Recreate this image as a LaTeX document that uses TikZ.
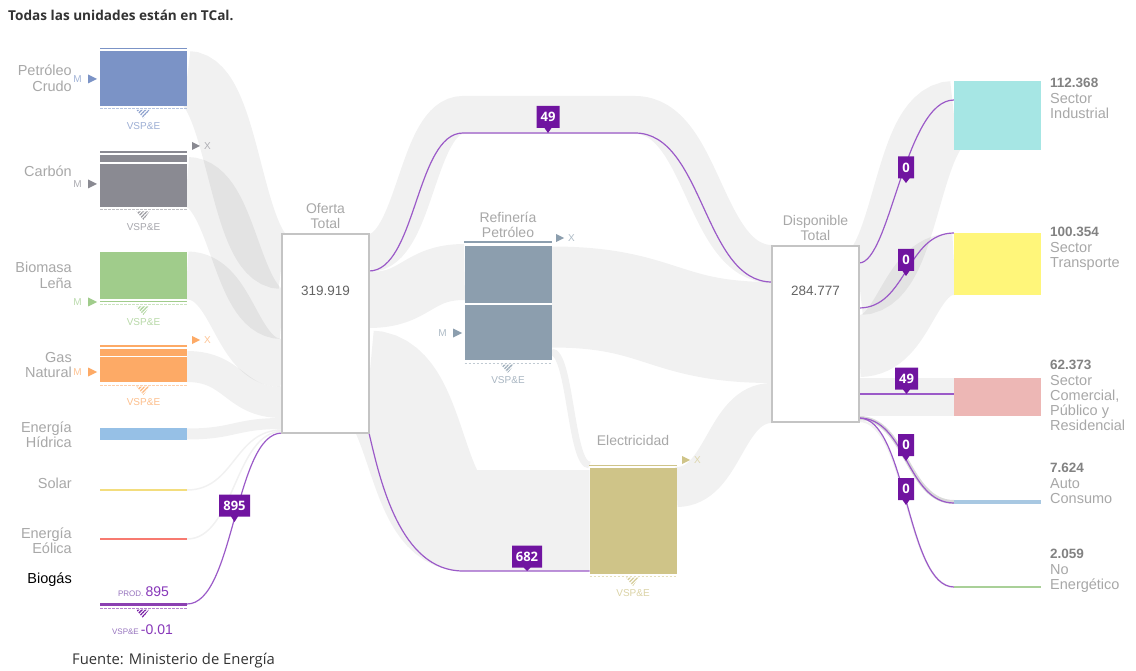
\documentclass[tikz,border=0pt]{standalone}
\usepackage{fontspec}
\setmainfont{Liberation Sans}
\newfontfamily\opensans{Open Sans}
\usetikzlibrary{calc,positioning,patterns.meta,shapes.callouts}

\definecolor{petrol}{RGB}{123,147,198}
\definecolor{carbon}{RGB}{138,138,146}
\definecolor{biomasa}{RGB}{160,204,139}
\definecolor{gas}{RGB}{253,170,102}
\definecolor{hidrica}{RGB}{150,192,230}
\definecolor{solar}{RGB}{243,221,125}
\definecolor{eolica}{RGB}{247,122,112}
\definecolor{biogas}{RGB}{120,30,165}
\definecolor{refin}{RGB}{140,158,174}
\definecolor{elec}{RGB}{207,196,136}
\definecolor{indus}{RGB}{166,230,228}
\definecolor{transp}{RGB}{255,246,122}
\definecolor{comer}{RGB}{237,183,181}
\definecolor{autoc}{RGB}{168,200,226}
\definecolor{noener}{RGB}{169,208,152}
\definecolor{boxgray}{RGB}{196,196,196}
\definecolor{labgray}{RGB}{168,168,168}
\definecolor{numgray}{RGB}{100,100,100}
\definecolor{sinkgray}{RGB}{130,130,130}
\definecolor{titlegray}{RGB}{51,51,51}
\definecolor{linepurple}{RGB}{155,90,200}
\definecolor{tagpurple}{RGB}{112,20,160}
\definecolor{prodcol}{RGB}{150,115,190}
\definecolor{biotext}{RGB}{135,55,185}

\newcommand{\sinknum}{\fontsize{13.5}{15.3}\selectfont\bfseries\color{sinkgray}}

\pgfdeclarelayer{bg}
\pgfsetlayers{bg,main}

\tikzset{
  flowband/.style={draw=black, draw opacity=0.055, line cap=butt},
  sankey/.style={to path={let \p1=(\tikztostart), \p2=(\tikztotarget), \n1={(\x2-\x1)/2} in
      .. controls ([xshift=\n1]\tikztostart) and ([xshift=-\n1]\tikztotarget) .. (\tikztotarget)}},
  bioline/.style={draw=linepurple, line width=1.2},
  barnode/.style={rectangle, inner sep=0, outer sep=0, minimum width=87, draw=none},
  ebox/.style={rectangle, draw=boxgray, line width=2, fill=white, inner sep=0, outer sep=0, minimum width=87},
  srclab/.style={anchor=east, align=right, text=labgray, inner sep=0, font=\fontsize{14.5}{15.5}\selectfont},
  boxlab/.style={align=center, text=labgray, inner sep=0, font=\fontsize{14}{15}\selectfont},
  numlab/.style={inner sep=0, text=numgray, font=\fontsize{13.5}{14}\selectfont},
  snklab/.style={anchor=north west, align=left, text=labgray, inner sep=0, font=\fontsize{14.5}{15.3}\selectfont},
  vsplab/.style={inner sep=0, font=\fontsize{10}{10}\selectfont},
  marklab/.style={inner sep=0, font=\fontsize{10}{10}\selectfont},
  hatch/.style={pattern={Lines[angle=45,distance=2.6pt,line width=1.3pt]}},
  flowtag/.style={rectangle callout, fill=tagpurple, text=white, inner sep=0, minimum width=23,
      minimum height=22, callout pointer width=7, font=\opensans\bfseries\fontsize{13}{13}\selectfont}
}

\begin{document}
\begin{tikzpicture}[x=1pt, y=-1pt]
    \useasboundingbox (0,0) rectangle (1136,671);

    \node[anchor=west, inner sep=0, text=titlegray, font=\opensans\bfseries\fontsize{13.6}{15}\selectfont] (title) at (8,15) {Todas las unidades están en TCal.};

    % Sources
    \node[barnode, fill=petrol, minimum height=55] (crudo) at (143.5,78.5) {};
    \node[barnode, fill=carbon, minimum height=52] (carbon) at (143.5,181) {};
    \node[barnode, fill=biomasa, minimum height=47] (biomasa) at (143.5,275.5) {};
    \node[barnode, fill=gas, minimum height=33] (gas) at (143.5,365.5) {};
    \node[barnode, fill=hidrica, minimum height=12] (hidrica) at (143.5,434) {};
    \node[barnode, fill=solar, minimum height=2.5] (solar) at (143.5,490) {};
    \node[barnode, fill=eolica, minimum height=2.5] (eolica) at (143.5,539) {};
    \node[barnode, fill=biogas!85, minimum height=3] (biogas) at (143.5,604) {};

    \draw[white, line width=1.2] (100,163) -- (187,163);
    \draw[white, line width=1.2] (100,356.5) -- (187,356.5);
    \foreach \y/\c in {48.5/petrol, 152/carbon, 301.5/biomasa, 346/gas}
        \draw[\c, line width=1.5] (100,\y) -- (187,\y);

    \node[srclab] (crudolab) at (72,78) {Petróleo\\Crudo};
    \node[srclab] (carbonlab) at (72,171) {Carbón};
    \node[srclab] (biomasalab) at (72,275.5) {Biomasa\\Leña};
    \node[srclab] (gaslab) at (72,365) {Gas\\Natural};
    \node[srclab] (hidricalab) at (72,434.5) {Energía\\Hídrica};
    \node[srclab] (solarlab) at (72,483) {Solar};
    \node[srclab] (eolicalab) at (72,540.5) {Energía\\Eólica};
    \node[srclab, text=black] (biogaslab) at (72,580) {Biogás};

    % Transformation
    \node[ebox, minimum height=199] (oferta) at (325.5,333.5) {};
    \node[numlab] (ofertaval) at (325.5,291) {319.919};
    \node[boxlab, above=5pt of oferta] (ofertalab) {Oferta\\Total};

    \node[barnode, fill=refin, minimum height=114] (refin) at (508,303) {};
    \draw[white, line width=1.5] (464,304) -- (552,304);
    \draw[refin, line width=1.5] (464,242) -- (552,242);
    \node[boxlab, above=8pt of refin] (refinlab) {Refinería\\Petróleo};

    \node[barnode, fill=elec, minimum height=106] (elec) at (633,521) {};
    \draw[elec, line width=1.5] (589,465.5) -- (677,465.5);
    \node[boxlab, above=22pt of elec] (eleclab) {Electricidad};

    \node[ebox, minimum height=176] (disp) at (815.5,334) {};
    \node[numlab] (dispval) at (815.5,291) {284.777};
    \node[boxlab, above=5pt of disp] (displab) {Disponible\\Total};

    % Consumers
    \node[barnode, fill=indus, minimum height=69] (indus) at (997.5,115.5) {};
    \node[barnode, fill=transp, minimum height=62] (transp) at (997.5,264) {};
    \node[barnode, fill=comer, minimum height=38] (comer) at (997.5,397) {};
    \node[barnode, fill=autoc, minimum height=4] (autocons) at (997.5,502) {};
    \node[barnode, fill=noener, minimum height=2] (noener) at (997.5,587) {};

    \node[snklab] (induslab) at (1050,78.1) {{\sinknum 112.368}\\Sector\\Industrial};
    \node[snklab] (transplab) at (1050,227.1) {{\sinknum 100.354}\\Sector\\Transporte};
    \node[snklab] (comerlab) at (1050,360.1) {{\sinknum 62.373}\\Sector\\Comercial,\\Público y\\Residencial};
    \node[snklab] (autolab) at (1050,463.1) {{\sinknum 7.624}\\Auto\\Consumo};
    \node[snklab] (noenerlab) at (1050,549.1) {{\sinknum 2.059}\\No\\Energético};

    % Imports, exports and VSP&E marks
    \foreach \x/\y/\c in {88/79/petrol, 88/184/carbon, 88/302/biomasa, 88/372/gas, 453/333/refin} {
        \fill[\c] (\x,\y-4.5) -- (\x+9,\y) -- (\x,\y+4.5) -- cycle;
        \node[marklab, text=\c!70, anchor=east] (imp\y) at (\x-6,\y) {M};
    }
    \foreach \x/\y/\c in {192/146/carbon, 192/340/gas, 556/238/refin, 682/460/elec} {
        \fill[\c] (\x,\y-4) -- (\x+8,\y) -- (\x,\y+4) -- cycle;
        \node[marklab, text=\c!70, anchor=west] (exp\y) at (\x+12,\y) {X};
    }
    \foreach \x/\y/\c in {143.5/108.5/petrol, 143.5/210/carbon, 143.5/305/biomasa, 143.5/385/gas, 508/363/refin, 633/576/elec} {
        \draw[\c!55, line width=1, dash pattern=on 2.5pt off 1.5pt] (\x-43.5,\y) -- (\x+43.5,\y);
        \fill[hatch, pattern color=\c!85] (\x-7,\y+1.5) -- (\x+6,\y+1.5) -- (\x,\y+10) -- cycle;
        \node[vsplab, text=\c!75] (vsp\y) at (\x,\y+17.5) {VSP\&E};
    }
    \draw[biogas!55, line width=1, dash pattern=on 2.5pt off 1.5pt] (100,608) -- (187,608);
    \fill[hatch, pattern color=biogas] (136,609.5) -- (149,609.5) -- (143,618) -- cycle;
    \node[inner sep=0, anchor=base] (bioprod) at (143.5,596) {\fontsize{8}{8}\selectfont\color{prodcol}PROD. \fontsize{14}{14}\selectfont\color{biotext}895};
    \node[inner sep=0, anchor=base] (biovsp) at (142.5,634) {\fontsize{8}{8}\selectfont\color{prodcol}VSP\&E \fontsize{14}{14}\selectfont\color{biotext}-0.01};

    \node[anchor=west, inner sep=0, text=titlegray, font=\opensans\fontsize{14.8}{16}\selectfont] (fuente) at (72,661) {Fuente: Ministerio de Energía};

    % Flows
    \begin{pgfonlayer}{bg}
        \fill[white] (0,0) rectangle (1136,671);
        \draw[flowband, line width=55] (crudo.east) to[sankey] (oferta.west |- 0,261.5);
        \draw[flowband, line width=50] (carbon.east |- 0,182) to[sankey] (oferta.west |- 0,314);
        \draw[flowband, line width=48] (biomasa.east) to[sankey] (oferta.west |- 0,363);
        \draw[flowband, line width=31] (gas.east |- 0,366.5) to[sankey] (oferta.west |- 0,402.5);
        \draw[flowband, line width=11] (hidrica.east) to[sankey] (oferta.west |- 0,423.5);
        \draw[flowband, line width=1.5] (solar.east) to[sankey] (oferta.west |- 0,430);
        \draw[flowband, line width=1.5] (eolica.east) to[sankey] (oferta.west |- 0,431.5);

        \draw[flowband, line width=38] (oferta.east |- 0,253) to[sankey] (463,115) -- (635,115) to[sankey] (disp.west |- 0,264);
        \draw[flowband, line width=56] (oferta.east |- 0,300) to[sankey] (refin.west |- 0,272);
        \draw[flowband, line width=101] (oferta.east |- 0,381) to[sankey] (463,520.5) -- (elec.west |- 0,520.5);
        \draw[flowband, line width=101] (refin.east |- 0,297) to[sankey] (disp.west |- 0,332.5);
        \draw[flowband, line width=7] (refin.east |- 0,352) to[sankey] (elec.west |- 0,465);
        \draw[flowband, line width=40] (elec.east |- 0,487) to[sankey] (disp.west |- 0,403);

        \draw[flowband, line width=69] (disp.east |- 0,280.5) to[sankey] (indus.west);
        \draw[flowband, line width=62] (disp.east |- 0,346) to[sankey] (transp.west);
        \draw[flowband, line width=38] (disp.east |- 0,397) -- (comer.west);
        \draw[flowband, line width=4, draw opacity=0.15] (disp.east |- 0,418) to[sankey] (autocons.west);
        \draw[flowband, line width=2] (disp.east |- 0,421) to[sankey] (noener.west);

        % biogas
        \draw[bioline] (biogas.east) to[sankey] (oferta.south west);
        \draw[bioline] (oferta.east |- 0,271) to[sankey] (463,133) -- (635,133) to[sankey] (disp.west |- 0,282);
        \draw[bioline] (oferta.south east) .. controls (380,480) and (400,571) .. (463,571) -- (elec.west |- 0,571);
        \draw[bioline] (disp.east |- 0,263) .. controls (890,263) and (905,100) .. (indus.west |- 0,100);
        \draw[bioline] (disp.east |- 0,308) to[sankey] (transp.west |- 0,233);
        \draw[bioline] (disp.east |- 0,394) -- (comer.west |- 0,394);
        \draw[bioline] (disp.east |- 0,418) to[sankey] (autocons.west |- 0,503);
        \draw[bioline] (disp.east |- 0,418) to[sankey] (noener.west);
    \end{pgfonlayer}

    % Flow values
    \node[flowtag, callout absolute pointer={(548,133)}] (tagtop) at (548,117) {49};
    \node[flowtag, minimum width=30, callout absolute pointer={(527,571)}] (tagelec) at (527,556.5) {682};
    \node[flowtag, minimum width=31, callout absolute pointer={(234.5,522)}] (tagbio) at (234.5,505.5) {895};
    \node[flowtag, minimum width=16, callout absolute pointer={(906,183)}] (tagind) at (906,167.5) {0};
    \node[flowtag, minimum width=16, callout absolute pointer={(906,276)}] (tagtra) at (906,260) {0};
    \node[flowtag, callout absolute pointer={(906.5,394)}] (tagcom) at (906.5,378.5) {49};
    \node[flowtag, minimum width=16, callout absolute pointer={(906,461)}] (tagaut) at (906,445) {0};
    \node[flowtag, minimum width=16, callout absolute pointer={(906,505)}] (tagnoe) at (906,489) {0};
\end{tikzpicture}
\end{document}
